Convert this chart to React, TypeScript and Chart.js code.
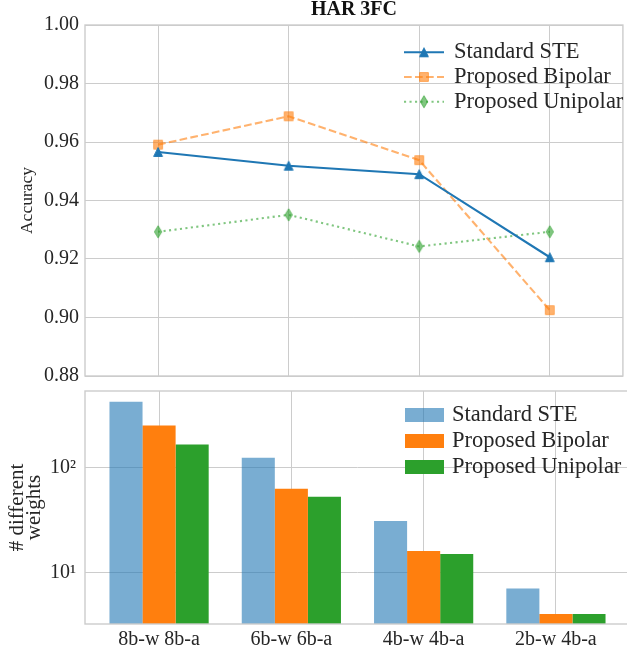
import React, { useEffect, useRef } from 'react';
import { Chart, registerables } from 'chart.js';

Chart.register(...registerables);

// ---------- data ----------
const categories = ['8b-w 8b-a', '6b-w 6b-a', '4b-w 4b-a', '2b-w 4b-a'];
const seriesNames = ['Standard STE', 'Proposed Bipolar', 'Proposed Unipolar'];
const chartTitle = 'HAR 3FC';

const accStandard = [0.9566, 0.9519, 0.9490, 0.9206];
const accBipolar = [0.9591, 0.9688, 0.9538, 0.9025];
const accUnipolar = [0.9293, 0.9351, 0.9243, 0.9293];
const accTicks = [0.88, 0.9, 0.92, 0.94, 0.96, 0.98, 1.0];

const weightsStandard = [430, 125, 31, 7];
const weightsBipolar = [254, 63, 16, 4];
const weightsUnipolar = [167, 53, 15, 4];
const weightTicks = [10, 100];
const weightTickLabels = ['10¹', '10²'];

// ---------- style ----------
const FONT = 'Liberation Serif';
const TEXT = '#262626';
const GRID = '#cccccc';
const BLUE = '#1f77b4';
const ORANGE_A = 'rgba(255,127,14,0.6)';
const GREEN_A = 'rgba(44,160,44,0.6)';
const BLUE_A = 'rgba(31,119,180,0.6)';
const ORANGE = '#ff7f0e';
const GREEN = '#2ca02c';

function makeMarker(shape: string, fill: string, stroke: string) {
  const c = document.createElement('canvas');
  c.width = 14;
  c.height = 16;
  const ctx = c.getContext('2d')!;
  ctx.translate(7, 8);
  ctx.beginPath();
  const s = 4.4;
  if (shape === 'triangle') {
    ctx.moveTo(0, -s);
    ctx.lineTo(s, s);
    ctx.lineTo(-s, s);
  } else if (shape === 'square') {
    ctx.rect(-s, -s, 2 * s, 2 * s);
  } else {
    const hh = 6.1;
    const hw = 3.7;
    ctx.moveTo(0, -hh);
    ctx.lineTo(hw, 0);
    ctx.lineTo(0, hh);
    ctx.lineTo(-hw, 0);
  }
  ctx.closePath();
  ctx.fillStyle = fill;
  ctx.fill();
  ctx.lineWidth = 1;
  ctx.strokeStyle = stroke;
  ctx.lineJoin = 'miter';
  ctx.stroke();
  return c;
}

const framePlugin = {
  id: 'frame',
  afterDatasetsDraw(chart: any) {
    const { ctx, chartArea: a } = chart;
    ctx.save();
    ctx.strokeStyle = GRID;
    ctx.lineWidth = 1.4;
    ctx.strokeRect(a.left, a.top, a.right - a.left, a.bottom - a.top);
    ctx.restore();
  },
};

const legendPlugin = {
  id: 'customLegend',
  afterDraw(chart: any, _args: any, opts: any) {
    if (!opts || !opts.kind) return;
    const { ctx } = chart;
    ctx.save();
    chart.data.datasets.forEach((ds: any, i: number) => {
      const y = opts.y + i * opts.gap;
      if (opts.kind === 'line') {
        ctx.beginPath();
        ctx.setLineDash(ds.borderDash || []);
        ctx.strokeStyle = ds.borderColor;
        ctx.lineWidth = ds.borderWidth;
        ctx.moveTo(opts.x, y);
        ctx.lineTo(opts.x + opts.w, y);
        ctx.stroke();
        ctx.setLineDash([]);
        const img = ds.pointStyle;
        ctx.drawImage(img, opts.x + opts.w / 2 - img.width / 2, y - img.height / 2);
      } else {
        ctx.fillStyle = ds.backgroundColor;
        ctx.fillRect(opts.x, y - opts.h / 2, opts.w, opts.h);
      }
      ctx.fillStyle = TEXT;
      ctx.font = opts.font;
      ctx.textBaseline = 'middle';
      ctx.textAlign = 'left';
      ctx.fillText(ds.label, opts.textX, y);
    });
    ctx.restore();
  },
};

const X_MIN = -0.56;
const X_MAX = 3.56;

export default function App() {
  const topRef = useRef<HTMLCanvasElement>(null);
  const botRef = useRef<HTMLCanvasElement>(null);

  useEffect(() => {
    Chart.defaults.font.family = FONT;
    const catTicks = (scale: any) => {
      scale.ticks = categories.map((_, i) => ({ value: i }));
    };

    const lineDatasets = [
      {
        label: seriesNames[0],
        data: accStandard.map((v, i) => ({ x: i, y: v })),
        borderColor: BLUE,
        borderWidth: 2.1,
        borderDash: [],
        pointStyle: makeMarker('triangle', BLUE, BLUE),
      },
      {
        label: seriesNames[1],
        data: accBipolar.map((v, i) => ({ x: i, y: v })),
        borderColor: ORANGE_A,
        borderWidth: 2.1,
        borderDash: [7.7, 3.3],
        pointStyle: makeMarker('square', ORANGE_A, ORANGE_A),
      },
      {
        label: seriesNames[2],
        data: accUnipolar.map((v, i) => ({ x: i, y: v })),
        borderColor: GREEN_A,
        borderWidth: 2.1,
        borderDash: [2.1, 3.4],
        pointStyle: makeMarker('diamond', GREEN_A, GREEN_A),
      },
    ].map((d) => ({ ...d, pointRadius: 5, fill: false, tension: 0, borderCapStyle: 'butt' }));

    const top = new Chart(topRef.current!, {
      type: 'line',
      data: { datasets: lineDatasets as any },
      plugins: [framePlugin, legendPlugin],
      options: {
        animation: false,
        responsive: false,
        maintainAspectRatio: false,
        layout: { padding: 0 },
        plugins: {
          legend: { display: false },
          tooltip: { enabled: false },
          title: {
            display: true,
            text: chartTitle,
            fullSize: false,
            color: '#111',
            font: { family: FONT, size: 20, weight: 'bold', lineHeight: 1 },
            padding: { top: 0, bottom: 5 },
          },
          customLegend: {
            kind: 'line',
            x: 404,
            w: 40,
            y: 52.3,
            gap: 24.7,
            textX: 454,
            font: `22.5px "${FONT}"`,
          },
        } as any,
        scales: {
          x: {
            type: 'linear',
            min: X_MIN,
            max: X_MAX,
            afterBuildTicks: catTicks,
            afterFit: (s: any) => {
              s.height = 20;
            },
            ticks: { display: false },
            grid: { color: GRID, lineWidth: 1, drawTicks: false },
            border: { display: false },
          },
          y: {
            min: 0.88,
            max: 1.0,
            afterBuildTicks: (s: any) => {
              s.ticks = accTicks.map((v) => ({ value: v }));
            },
            afterFit: (s: any) => {
              s.width = 85;
            },
            ticks: {
              padding: 6,
              color: TEXT,
              font: { family: FONT, size: 20 },
              callback: (v: any) => Number(v).toFixed(2),
            },
            grid: { color: GRID, lineWidth: 1, drawTicks: false },
            border: { display: false },
            title: {
              display: true,
              text: 'Accuracy',
              color: TEXT,
              font: { family: FONT, size: 17.5, lineHeight: 1.2 },
              padding: { top: 17, bottom: 0 },
            },
          },
        },
      } as any,
    });

    const barDatasets = [
      { label: seriesNames[0], values: weightsStandard, color: BLUE_A },
      { label: seriesNames[1], values: weightsBipolar, color: ORANGE },
      { label: seriesNames[2], values: weightsUnipolar, color: GREEN },
    ].map((d) => ({
      label: d.label,
      data: d.values.map((v, i) => ({ x: i, y: v })),
      backgroundColor: d.color,
      borderWidth: 0,
      categoryPercentage: 0.75,
      barPercentage: 1.0,
    }));

    const bottom = new Chart(botRef.current!, {
      type: 'bar',
      data: { datasets: barDatasets as any },
      plugins: [framePlugin, legendPlugin],
      options: {
        animation: false,
        responsive: false,
        maintainAspectRatio: false,
        layout: { padding: { top: 20, left: 0, right: 0, bottom: 0 } },
        plugins: {
          legend: { display: false },
          tooltip: { enabled: false },
          customLegend: {
            kind: 'bar',
            x: 405,
            w: 39,
            h: 14,
            y: 45,
            gap: 26,
            textX: 452,
            font: `22.5px "${FONT}"`,
          },
        } as any,
        scales: {
          x: {
            type: 'linear',
            offset: false,
            min: X_MIN,
            max: X_MAX,
            afterBuildTicks: catTicks,
            afterFit: (s: any) => {
              s.height = 29;
            },
            ticks: {
              padding: 4,
              color: TEXT,
              autoSkip: false,
              maxRotation: 0,
              font: { family: FONT, size: 20 },
              callback: (v: any) => categories[v] ?? '',
            },
            grid: { color: GRID, lineWidth: 1, drawTicks: false, offset: false },
            border: { display: false },
          },
          y: {
            type: 'logarithmic',
            min: 3.2,
            max: 544,
            afterBuildTicks: (s: any) => {
              s.ticks = weightTicks.map((v) => ({ value: v }));
            },
            afterFit: (s: any) => {
              s.width = 85;
            },
            ticks: {
              padding: 9,
              color: TEXT,
              font: { family: FONT, size: 20 },
              callback: (v: any) => {
                const k = weightTicks.indexOf(Number(v));
                return k >= 0 ? weightTickLabels[k] : '';
              },
            },
            grid: { color: GRID, lineWidth: 1, drawTicks: false },
            border: { display: false },
            title: {
              display: true,
              text: ['# different', 'weights'],
              color: TEXT,
              font: { family: FONT, size: 21, lineHeight: 0.82 },
              padding: { top: 8.7, bottom: 0 },
            },
          },
        },
      } as any,
    });

    return () => {
      top.destroy();
      bottom.destroy();
    };
  }, []);

  return (
    <div
      style={{
        position: 'fixed',
        left: 0,
        top: 0,
        width: 627,
        height: 653,
        overflow: 'hidden',
        background: '#fff',
      }}
    >
      <canvas
        ref={topRef}
        width={630}
        height={396}
        style={{ position: 'absolute', left: 0, top: 0, width: 630, height: 396 }}
      />
      <canvas
        ref={botRef}
        width={630}
        height={283}
        style={{ position: 'absolute', left: 0, top: 370, width: 630, height: 283 }}
      />
    </div>
  );
}
